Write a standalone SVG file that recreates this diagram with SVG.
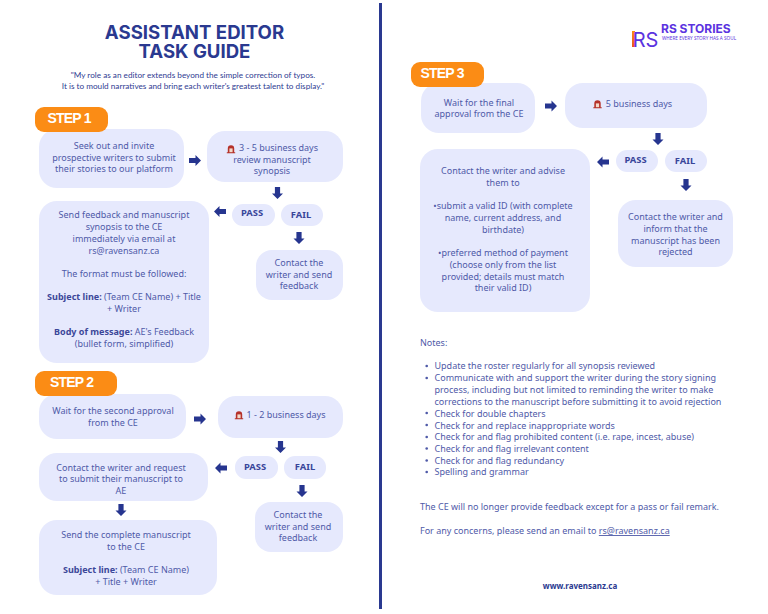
<svg xmlns="http://www.w3.org/2000/svg" width="768" height="614" viewBox="0 0 768 614">
<style>
text{font-family:"Noto Sans","Liberation Sans",sans-serif;font-size:9px;fill:#4f5aa8;text-anchor:middle}
.box{fill:#e6e9fd}
.pill{fill:#fb8c15}
.step{font-family:"Liberation Sans",sans-serif;font-size:14px;font-weight:700;fill:#fff;text-anchor:start;letter-spacing:-0.8px}
.b{font-weight:700;fill:#3c4799}
.pf{font-weight:700;font-size:9.4px;fill:#39459a}
.title{font-family:"Inter","Liberation Sans",sans-serif;font-size:18.6px;font-weight:700;fill:#2a3990}
.quote{font-family:"Lato","Liberation Sans",sans-serif;font-size:8.2px;fill:#2f3c92}
.l{text-anchor:start}
.arrow{fill:#26358f}
.ico{fill:#b5322a}
</style>
<defs>
<polygon id="arr" points="-6,-2.6 0.5,-2.6 0.5,-5.5 6,0 0.5,5.5 0.5,2.6 -6,2.6"/>
<g id="alarm"><path class="ico" d="M-3.2,3.2 V-0.5 A3.2,3.2 0 0 1 3.2,-0.5 V3.2 H4.2 V4.2 H-4.2 V3.2 Z"/><rect x="-1.6" y="-0.6" width="3.2" height="3.8" fill="#f3d9c8"/></g>
<linearGradient id="st" x1="0" y1="0" x2="0" y2="1"><stop offset="0" stop-color="#fb8c15"/><stop offset="1" stop-color="#e8541c"/></linearGradient>
</defs>
<rect width="768" height="614" fill="#fff"/>
<rect id="divider" x="379" y="3" width="3" height="606" fill="#2a3990"/>

<g id="header">
<text class="title" x="194.500" y="39">ASSISTANT EDITOR</text>
<text class="title" x="194.500" y="58">TASK GUIDE</text>
<text class="quote" x="193" y="78">"My role as an editor extends beyond the simple correction of typos.</text>
<text class="quote" x="193" y="89">It is to mould narratives and bring each writer's greatest talent to display."</text>
</g>

<g id="logo">
<rect x="632" y="31" width="3" height="16" fill="url(#st)"/>
<text x="645.500" y="47" style="font-family:'Inter','Liberation Sans',sans-serif;font-size:20px;fill:#5b33e0">RS</text>
<text x="661" y="33" style="font-family:'Inter','Liberation Sans',sans-serif;font-size:12px;font-weight:700;fill:#5b33e0;text-anchor:start">RS STORIES</text>
<text x="662" y="40" style="font-size:4.700px;fill:#5b33e0;text-anchor:start">WHERE EVERY STORY HAS A SOUL</text>
</g>

<g id="connectors" class="arrow">
<use href="#arr" transform="translate(195,160.500)"/>
<use href="#arr" transform="translate(277.500,193) rotate(90)"/>
<use href="#arr" transform="translate(220,211.500) rotate(180)"/>
<use href="#arr" transform="translate(299,238) rotate(90)"/>
<use href="#arr" transform="translate(200,419)"/>
<use href="#arr" transform="translate(280.500,447) rotate(90)"/>
<use href="#arr" transform="translate(221,468) rotate(180)"/>
<use href="#arr" transform="translate(302,491) rotate(90)"/>
<use href="#arr" transform="translate(121,510) rotate(90)"/>
<use href="#arr" transform="translate(551,106)"/>
<use href="#arr" transform="translate(658,139) rotate(90)"/>
<use href="#arr" transform="translate(603,162) rotate(180)"/>
<use href="#arr" transform="translate(686,185) rotate(90)"/>
</g>

<g id="s1-seek"><rect class="box" x="39" y="129" width="145" height="59" rx="18"/>
<text x="114" y="149">Seek out and invite</text><text x="114" y="161">prospective writers to submit</text><text x="114" y="172">their stories to our platform</text></g>
<g id="step1"><rect class="pill" x="35" y="107" width="73" height="25" rx="9"/><text class="step" x="47.500" y="123">STEP 1</text></g>
<g id="s1-wait"><rect class="box" x="207" y="131" width="136" height="51" rx="18"/>
<use href="#alarm" x="231" y="149"/>
<text x="278.500" y="150.500">3 - 5 business days</text><text x="272" y="163">review manuscript</text><text x="272" y="174">synopsis</text></g>
<g id="s1-pass"><rect class="box" x="232" y="204" width="43" height="22" rx="11"/><text class="pf" x="252" y="215.500">PASS</text></g>
<g id="s1-fail"><rect class="box" x="281" y="204" width="42" height="22" rx="11"/><text class="pf" x="301" y="218">FAIL</text></g>
<g id="s1-send"><rect class="box" x="39" y="201" width="170" height="162" rx="18"/>
<text x="124" y="218">Send feedback and manuscript</text><text x="124" y="230">synopsis to the CE</text><text x="124" y="242">immediately via email at</text><text x="124" y="253.500">rs@ravensanz.ca</text><text x="124" y="277">The format must be followed:</text>
<text x="124" y="300"><tspan class="b">Subject line:</tspan> (Team CE Name) + Title</text><text x="124" y="312">+ Writer</text>
<text x="124" y="335"><tspan class="b">Body of message:</tspan> AE's Feedback</text><text x="124" y="347">(bullet form, simplified)</text></g>
<g id="s1-contact"><rect class="box" x="256" y="250" width="87" height="50" rx="16"/>
<text x="299" y="266">Contact the</text><text x="299" y="278">writer and send</text><text x="299" y="289">feedback</text></g>

<g id="s2-wait"><rect class="box" x="39" y="394" width="147" height="45" rx="18"/>
<text x="113" y="413.500">Wait for the second approval</text><text x="113" y="425.500">from the CE</text></g>
<g id="step2"><rect class="pill" x="35" y="371" width="82" height="25" rx="9"/><text class="step" x="50" y="387">STEP 2</text></g>
<g id="s2-days"><rect class="box" x="218" y="396" width="125" height="42" rx="18"/>
<use href="#alarm" x="239" y="415"/>
<text x="286" y="417.500">1 - 2 business days</text></g>
<g id="s2-pass"><rect class="box" x="235" y="456" width="43" height="23" rx="11"/><text class="pf" x="255" y="469.500">PASS</text></g>
<g id="s2-fail"><rect class="box" x="284" y="456" width="42" height="23" rx="11"/><text class="pf" x="305" y="470">FAIL</text></g>
<g id="s2-contact"><rect class="box" x="39" y="453" width="169" height="48" rx="18"/>
<text x="121" y="470.500">Contact the writer and request</text><text x="121" y="482">to submit their manuscript  to</text><text x="121" y="493.500">AE</text></g>
<g id="s2-send"><rect class="box" x="39" y="520" width="178" height="75" rx="18"/>
<text x="126" y="537.500">Send the complete manuscript</text><text x="126" y="550">to the CE</text>
<text x="126" y="572.500"><tspan class="b">Subject line:</tspan> (Team CE Name)</text><text x="126" y="585">+ Title + Writer</text></g>
<g id="s2-reply"><rect class="box" x="255" y="502" width="88" height="50" rx="16"/>
<text x="298" y="518">Contact the</text><text x="298" y="530">writer and send</text><text x="298" y="541">feedback</text></g>

<g id="s3-wait"><rect class="box" x="421" y="83" width="114" height="50" rx="18"/>
<text x="479" y="105.500">Wait for the final</text><text x="479" y="116.500">approval from the CE</text></g>
<g id="step3"><rect class="pill" x="411" y="62" width="73" height="25" rx="9"/><text class="step" x="420.500" y="78">STEP 3</text></g>
<g id="s3-days"><rect class="box" x="565" y="83" width="142" height="45" rx="18"/>
<use href="#alarm" x="597.500" y="104"/>
<text x="639" y="106.500">5 business days</text></g>
<g id="s3-pass"><rect class="box" x="616" y="150" width="42" height="22" rx="11"/><text class="pf" x="635.500" y="162.500">PASS</text></g>
<g id="s3-fail"><rect class="box" x="665" y="150" width="42" height="22" rx="11"/><text class="pf" x="685" y="164">FAIL</text></g>
<g id="s3-contact"><rect class="box" x="420" y="149" width="170" height="163" rx="18"/>
<text x="503" y="173.500">Contact the writer and advise</text><text x="503" y="186">them to</text>
<text x="503" y="209">•submit a valid ID (with complete</text><text x="503" y="221">name, current address, and</text><text x="503" y="233">birthdate)</text>
<text x="503" y="256">•preferred method of payment</text><text x="503" y="268">(choose only from the list</text><text x="503" y="279.500">provided; details must match</text><text x="503" y="291">their valid ID)</text></g>
<g id="s3-reject"><rect class="box" x="618" y="200" width="115" height="67" rx="18"/>
<text x="675.500" y="220">Contact the writer and</text><text x="675.500" y="232">inform that the</text><text x="675.500" y="243.500">manuscript has been</text><text x="675.500" y="255">rejected</text></g>

<g id="notes">
<text class="l" x="420" y="346">Notes:</text>
<g fill="#4f5aa8"><circle cx="426.700" cy="366" r="1.300"/><circle cx="426.700" cy="378" r="1.300"/><circle cx="426.700" cy="413" r="1.300"/><circle cx="426.700" cy="425" r="1.300"/><circle cx="426.700" cy="437" r="1.300"/><circle cx="426.700" cy="448.500" r="1.300"/><circle cx="426.700" cy="460.500" r="1.300"/><circle cx="426.700" cy="472" r="1.300"/></g>
<text class="l" x="434.500" y="369">Update the roster regularly for all synopsis reviewed</text>
<text class="l" x="434.500" y="381">Communicate with and support the writer during the story signing</text>
<text class="l" x="434.500" y="392.500">process, including but not limited to reminding the writer to make</text>
<text class="l" x="434.500" y="404.500">corrections to the manuscript before submitting it to avoid rejection</text>
<text class="l" x="434.500" y="416.500">Check for double chapters</text>
<text class="l" x="434.500" y="428.500">Check for and replace inappropriate words</text>
<text class="l" x="434.500" y="439.500">Check for and flag prohibited content (i.e. rape, incest, abuse)</text>
<text class="l" x="434.500" y="451.500">Check for and flag irrelevant content</text>
<text class="l" x="434.500" y="463.500">Check for and flag redundancy</text>
<text class="l" x="434.500" y="475">Spelling and grammar</text>
<text class="l" x="420" y="509.500">The CE will no longer provide feedback except for a pass or fail remark.</text>
<text class="l" x="420" y="534">For any concerns, please send an email to <tspan text-decoration="underline">rs@ravensanz.ca</tspan></text>
<text x="580" y="589" style="font-weight:700;font-size:8px;fill:#2a3990">www.ravensanz.ca</text>
</g>
</svg>
